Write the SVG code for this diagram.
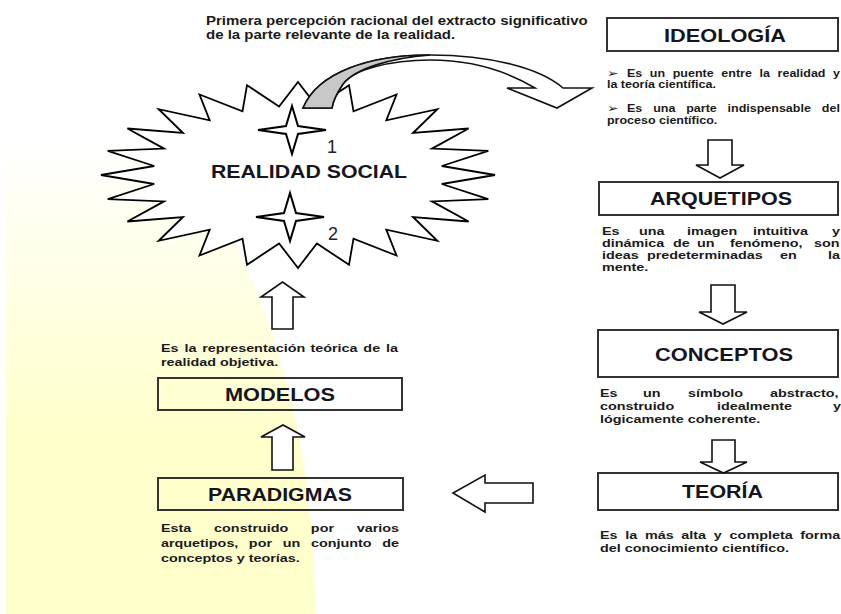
<svg xmlns="http://www.w3.org/2000/svg" width="841" height="614" viewBox="0 0 841 614">
<defs>
<linearGradient id="yel" gradientUnits="userSpaceOnUse" x1="0" y1="140" x2="0" y2="430">
<stop offset="0" stop-color="#FFFFCC" stop-opacity="0"/>
<stop offset="1" stop-color="#FFFFCC" stop-opacity="1"/>
</linearGradient>
<style>
.box{fill:none;stroke:#333;stroke-width:2}
.ttl{font-family:"Liberation Sans",Arial,sans-serif;font-weight:bold;font-size:18px;fill:#15151f}
.txt{font-family:"Liberation Sans",Arial,sans-serif;font-weight:bold;fill:#1a1a1a}
.s11{font-size:11.5px}
.s10{font-size:10px}
.s12{font-size:12px}
.bul{font-family:"DejaVu Sans",sans-serif;font-size:11px;fill:#111}
.arr{fill:#fff;stroke:#111;stroke-width:1.6;stroke-linejoin:miter}
.star4{fill:#fff;stroke:#000;stroke-width:2}
.num{font-family:"Liberation Sans",Arial,sans-serif;font-size:18px;fill:#222}
</style>
</defs>
<rect x="0" y="0" width="841" height="614" fill="#fff"/>
<path d="M 6,614 L 6,63 A 309 551 0 0 1 315,614 Z" fill="url(#yel)"/>

<g id="realidad-social">
<polygon fill="#fff" stroke="#000" stroke-width="1.8" stroke-linejoin="miter" points="495,175 441.8,166 488.3,150.9 432,148.6 468.6,128.5 413,133 437.3,109.2 386.3,120.3 396.5,94.5 353.5,111.3 349,85.2 316.9,106.6 298,82 279.1,106.6 247,85.2 242.5,111.3 199.5,94.5 209.7,120.3 158.7,109.2 183,133 127.4,128.5 164,148.6 107.7,150.9 154.2,166 101,175 154.2,184 107.7,199.1 164,201.4 127.4,221.5 183,217 158.7,240.8 209.7,229.7 199.5,255.5 242.5,238.7 247,264.8 279.1,243.4 298,268 316.9,243.4 349,264.8 353.5,238.7 396.5,255.5 386.3,229.7 437.3,240.8 413,217 468.6,221.5 432,201.4 488.3,199.1 441.8,184"/>
<polygon class="star4" points="292,106 298,126 326,130 298,134 292,154 286,134 258,130 286,126"/>
<polygon class="star4" points="290,193 296,213 324,217 296,221 290,241 284,221 256,217 284,213"/>
<text class="num" x="327" y="153">1</text>
<text class="num" x="328" y="240">2</text>
<text class="ttl" x="211" y="178" textLength="196" lengthAdjust="spacingAndGlyphs">REALIDAD SOCIAL</text>
</g>

<g id="nota-percepcion">
<text class="txt s12" transform="scale(1.25,1)"><tspan x="164.8" y="25">Primera percepción racional del extracto significativo</tspan><tspan x="164.8" y="39">de la parte relevante de la realidad.</tspan></text>
</g>

<g id="ideologia">
<rect class="box" x="607" y="18" width="231" height="33"/>
<text class="ttl" x="664" y="42" textLength="122" lengthAdjust="spacingAndGlyphs">IDEOLOGÍA</text>
<text class="txt s10" transform="scale(1.25,1)">
<tspan class="bul" x="485.6" y="77">➢</tspan><tspan x="501.6" y="77">Es</tspan><tspan x="519.9" y="77">un</tspan><tspan x="538.2" y="77">puente</tspan><tspan x="577.1" y="77">entre</tspan><tspan x="607.7" y="77">la</tspan><tspan x="622.1" y="77">realidad</tspan><tspan x="666.5" y="77">y</tspan>
<tspan x="485.6" y="88">la teoría científica.</tspan>
<tspan class="bul" x="485.6" y="112">➢</tspan><tspan x="501.6" y="112">Es</tspan><tspan x="522.6" y="112">una</tspan><tspan x="549" y="112">parte</tspan><tspan x="582.1" y="112">indispensable</tspan><tspan x="657.5" y="112">del</tspan>
<tspan x="485.6" y="124">proceso científico.</tspan>
</text>
</g>

<g id="arquetipos">
<rect class="box" x="599" y="182" width="239" height="33"/>
<text class="ttl" x="650" y="205" textLength="142" lengthAdjust="spacingAndGlyphs">ARQUETIPOS</text>
<text class="txt s11" transform="scale(1.25,1)">
<tspan x="481.6" y="235">Es</tspan><tspan x="511.2" y="235">una</tspan><tspan x="549.6" y="235">imagen</tspan><tspan x="602.4" y="235">intuitiva</tspan><tspan x="665.6" y="235">y</tspan>
<tspan x="481.6" y="247">dinámica</tspan><tspan x="538.4" y="247">de</tspan><tspan x="557.6" y="247">un</tspan><tspan x="584" y="247">fenómeno,</tspan><tspan x="651.2" y="247">son</tspan>
<tspan x="481.6" y="259">ideas</tspan><tspan x="517.6" y="259">predeterminadas</tspan><tspan x="624" y="259">en</tspan><tspan x="662.4" y="259">la</tspan>
<tspan x="481.6" y="271">mente.</tspan>
</text>
</g>

<g id="conceptos">
<rect class="box" x="598" y="330" width="240" height="47"/>
<text class="ttl" x="655" y="361" textLength="138" lengthAdjust="spacingAndGlyphs">CONCEPTOS</text>
<text class="txt s11" transform="scale(1.25,1)">
<tspan x="480" y="397">Es</tspan><tspan x="514.4" y="397">un</tspan><tspan x="550.4" y="397">símbolo</tspan><tspan x="616" y="397">abstracto,</tspan>
<tspan x="480" y="410">construido</tspan><tspan x="573.6" y="410">idealmente</tspan><tspan x="666.4" y="410">y</tspan>
<tspan x="480" y="423">lógicamente coherente.</tspan>
</text>
</g>

<g id="teoria">
<rect class="box" x="598" y="473" width="240" height="37"/>
<text class="ttl" x="682" y="498" textLength="81" lengthAdjust="spacingAndGlyphs">TEORÍA</text>
<text class="txt s11" transform="scale(1.25,1)">
<tspan x="480" y="539">Es</tspan><tspan x="500.2" y="539">la</tspan><tspan x="516" y="539">más</tspan><tspan x="545.1" y="539">alta</tspan><tspan x="571" y="539">y</tspan><tspan x="583.7" y="539">completa</tspan><tspan x="640.2" y="539">forma</tspan>
<tspan x="480" y="552">del conocimiento científico.</tspan>
</text>
</g>

<g id="modelos">
<text class="txt s11" transform="scale(1.25,1)">
<tspan x="128.8" y="352">Es</tspan><tspan x="147.6" y="352">la</tspan><tspan x="161.8" y="352">representación</tspan><tspan x="248.4" y="352">teórica</tspan><tspan x="290.7" y="352">de</tspan><tspan x="308.8" y="352">la</tspan>
<tspan x="128.8" y="366">realidad objetiva.</tspan>
</text>
<rect class="box" x="158" y="378" width="244" height="32"/>
<text class="ttl" x="225" y="401" textLength="110" lengthAdjust="spacingAndGlyphs">MODELOS</text>
</g>

<g id="paradigmas">
<rect class="box" x="158" y="478" width="245" height="32"/>
<text class="ttl" x="208" y="501" textLength="144" lengthAdjust="spacingAndGlyphs">PARADIGMAS</text>
<text class="txt s11" transform="scale(1.25,1)">
<tspan x="128.8" y="532">Esta</tspan><tspan x="171.3" y="532">construido</tspan><tspan x="248.7" y="532">por</tspan><tspan x="285.4" y="532">varios</tspan>
<tspan x="128.8" y="547">arquetipos,</tspan><tspan x="199.1" y="547">por</tspan><tspan x="226.2" y="547">un</tspan><tspan x="248.8" y="547">conjunto</tspan><tspan x="305.8" y="547">de</tspan>
<tspan x="128.8" y="562">conceptos y teorías.</tspan>
</text>
</g>

<g id="connectors">
<path class="arr" d="M 303,108 C 318,72 370,55 430,55 C 490,55 540,68 563,88 L 592,88 L 557,108 L 507,88 L 535,88 C 505,70 470,60 430,60 C 390,60 352,70 343,84 C 337,93 333,100 332,108 Z"/>
<path d="M 303,108 C 318,72 370,55 430,55 C 392,58 356,68 343,84 C 337,93 333,100 332,108 Z" fill="#c8c8c8" stroke="#111" stroke-width="1.6"/>
<path class="arr" d="M 708,140 L 732,140 L 732,165 L 744,165 L 720,178 L 696,165 L 708,165 Z"/>
<path class="arr" d="M 711,285 L 735,285 L 735,312 L 747,312 L 723,324 L 699,312 L 711,312 Z"/>
<path class="arr" d="M 712,440 L 735,440 L 735,462 L 747,462 L 723.5,473 L 700,462 L 712,462 Z"/>
<path class="arr" d="M 272,329 L 293,329 L 293,297 L 304,297 L 282.5,282 L 261,297 L 272,297 Z"/>
<path class="arr" d="M 272,470 L 293,470 L 293,437 L 305,437 L 283,425 L 261,437 L 272,437 Z"/>
<path class="arr" d="M 533,483 L 533,503 L 485,503 L 485,512 L 453,493 L 485,475 L 485,483 Z"/>
</g>
</svg>
